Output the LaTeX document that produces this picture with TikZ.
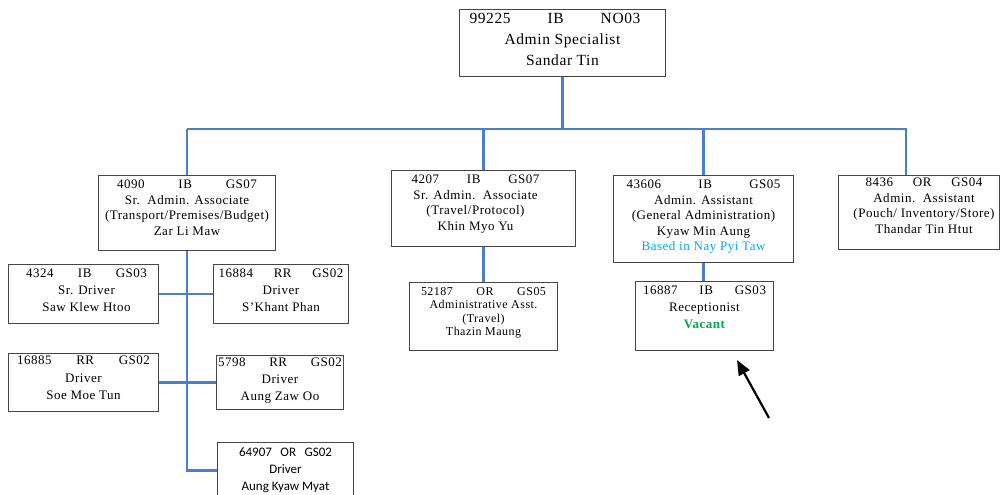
\documentclass[tikz,border=0pt]{standalone}
\usepackage{fontspec}
\newfontfamily\boxfont[LetterSpace=4]{Liberation Serif}
\newfontfamily\calfont{Carlito}
\usetikzlibrary{positioning,arrows.meta}
\definecolor{linkblue}{RGB}{74,126,210}
\definecolor{framegray}{RGB}{70,70,70}
\definecolor{basedcyan}{RGB}{0,170,235}
\definecolor{vacgreen}{RGB}{0,170,80}
\newcommand{\idrow}[4]{\makebox[#1]{#2\hfill#3\hfill#4}}
\tikzset{
  orgbox/.style={draw=framegray,line width=1pt,fill=white,anchor=north west,
    inner sep=0pt},
  boxtxt/.style={anchor=north,align=center,inner sep=0pt,
    font=\boxfont\fontsize{13}{15.5}\selectfont},
  headtxt/.style={boxtxt,font=\boxfont\fontsize{15.5}{21}\selectfont},
  drvtxt/.style={boxtxt,font=\boxfont\fontsize{13}{17}\selectfont},
  smalltxt/.style={boxtxt,font=\boxfont\fontsize{12}{13.5}\selectfont},
  link/.style={draw=linkblue,line width=2.6pt},
  pointer/.style={-{Triangle[length=15pt,width=12pt]},line width=2.2pt,black},
}
\begin{document}
\begin{tikzpicture}[x=1pt,y=-1pt]
  \useasboundingbox (0,0) rectangle (1001,495);
  % boxes
  \node[orgbox,minimum width=206pt,minimum height=67pt] (top) at (459,9) {};
  \node[orgbox,minimum width=177pt,minimum height=75pt] (b4090) at (98,175) {};
  \node[orgbox,minimum width=184pt,minimum height=76pt] (b4207) at (391,170) {};
  \node[orgbox,minimum width=180pt,minimum height=87pt] (b43606) at (613,175) {};
  \node[orgbox,minimum width=161pt,minimum height=74pt] (b8436) at (838,175) {};
  \node[orgbox,minimum width=150pt,minimum height=59pt] (b4324) at (8,264) {};
  \node[orgbox,minimum width=135pt,minimum height=59pt] (b16884) at (213,264) {};
  \node[orgbox,minimum width=150pt,minimum height=58pt] (b16885) at (8,353) {};
  \node[orgbox,minimum width=127pt,minimum height=54pt] (b5798) at (216,355) {};
  \node[orgbox,minimum width=136pt,minimum height=56pt] (b64907) at (217,442) {};
  \node[orgbox,minimum width=148pt,minimum height=68pt] (b52187) at (409,282) {};
  \node[orgbox,minimum width=138pt,minimum height=69pt] (b16887) at (635,281) {};

  % texts
  \node[headtxt,below=3.5pt of top.north] (ttop)
    {\idrow{171pt}{99225}{IB}{NO03}\kern15pt\\Admin Specialist\\Sandar Tin};
  \node[boxtxt,below=5pt of b4090.north] (t4090)
    {\idrow{140pt}{4090}{IB}{GS07}\\Sr.\ \ Admin. Associate\\
     (Transport/Premises/Budget)\\Zar Li Maw};
  \node[boxtxt,below=5pt of b4207.north,xshift=-8pt] (t4207)
    {\idrow{128pt}{4207}{IB}{GS07}\\Sr. Admin.\ \ Associate\\
     (Travel/Protocol)\\Khin Myo Yu};
  \node[boxtxt,below=5pt of b43606.north] (t43606)
    {\idrow{154pt}{43606}{IB}{GS05}\\Admin. Assistant\\
     (General Administration)\\Kyaw Min Aung\\
     \textcolor{basedcyan}{Based in Nay Pyi Taw}};
  \node[boxtxt,below=3pt of b8436.north,xshift=5pt] (t8436)
    {\idrow{117pt}{8436}{OR}{GS04}\\Admin.\ \ Assistant\\
     (Pouch/ Inventory/Store)\\Thandar Tin Htut};
  \node[drvtxt,below=5pt of b4324.north,xshift=3pt] (t4324)
    {\idrow{121pt}{4324}{IB}{GS03}\\Sr. Driver\\Saw Klew Htoo};
  \node[drvtxt,below=5pt of b16884.north] (t16884)
    {\idrow{125pt}{16884}{RR}{GS02}\\Driver\\S’Khant Phan};
  \node[drvtxt,font=\boxfont\fontsize{13}{17.5}\selectfont,
    below=3pt of b16885.north] (t16885)
    {\idrow{133pt}{16885}{RR}{GS02}\\Driver\\Soe Moe Tun};
  \node[drvtxt,below=3pt of b5798.north] (t5798)
    {\idrow{124pt}{5798}{RR}{GS02}\\Driver\\Aung Zaw Oo};
  \node[drvtxt,font=\calfont\fontsize{13}{17}\selectfont,
    below=6pt of b64907.north] (t64907)
    {\idrow{93pt}{64907}{OR}{GS02}\\Driver\\Aung Kyaw Myat};
  \node[smalltxt,below=5pt of b52187.north] (t52187)
    {\idrow{125pt}{52187}{OR}{GS05}\\Administrative Asst.\\(Travel)\\
     Thazin Maung};
  \node[drvtxt,below=5pt of b16887.north] (t16887)
    {\idrow{123pt}{16887}{IB}{GS03}\\Receptionist\\
     \textcolor{vacgreen}{\bfseries Vacant}};

  % connectors
  \coordinate (bus) at (0,129);
  \coordinate (drop8436) at (906,175);
  \draw[link] (top.south) -- (top.south |- bus);
  \draw[link] (b4090.north |- bus) -- (drop8436 |- bus) -- (drop8436);
  \draw[link] (b4090.north |- bus) -- (b4090.north);
  \draw[link] (b4207.north |- bus) -- (b4207.north);
  \draw[link] (b43606.north |- bus) -- (b43606.north);
  \draw[link] (b4090.south) |- (b64907.west);
  \draw[link] (b4324.east) -- (b16884.west);
  \draw[link] (b16885.east) -- (b5798.west);
  \draw[link] (b4207.south) -- (b4207.south |- b52187.north);
  \draw[link] (b43606.south) -- (b43606.south |- b16887.north);

  % pointer
  \coordinate (ptail) at (769,418);
  \coordinate (ptip) at (737,360);
  \draw[pointer] (ptail) -- (ptip);
\end{tikzpicture}
\end{document}
